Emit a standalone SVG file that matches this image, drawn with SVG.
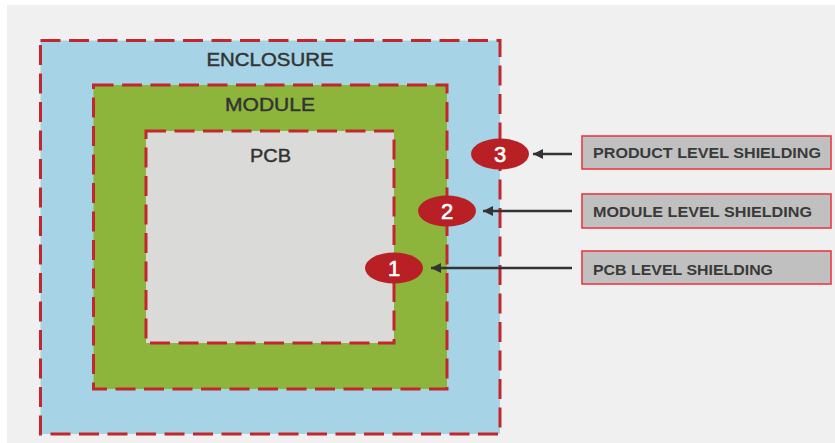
<svg xmlns="http://www.w3.org/2000/svg" width="835" height="443" viewBox="0 0 835 443">
<defs>
<style>
.zone{stroke:#c1272d;stroke-width:3;stroke-dasharray:20 8.5;}
.title{font-family:"Liberation Sans",Arial,sans-serif;font-size:19px;fill:#333;stroke:#333;stroke-width:0.45;text-anchor:middle;}
.badge{fill:#b92025;}
.num{font-family:"Liberation Sans",Arial,sans-serif;font-size:22px;fill:#fff;stroke:#fff;stroke-width:0.6;text-anchor:middle;}
.box{fill:#c0c0c0;stroke:#ec3a44;stroke-width:1.6;}
.lbl{font-family:"Liberation Sans",Arial,sans-serif;font-weight:bold;font-size:15px;fill:#3a3a3a;}
.arrow{stroke:#333;stroke-width:2.6;fill:none;}
</style>
<marker id="ah" markerWidth="10" markerHeight="10" refX="10" refY="5" orient="auto" markerUnits="userSpaceOnUse" viewBox="0 0 10 10">
<path d="M0,0 L10,5 L0,10 Z" fill="#333"/>
</marker>
</defs>
<rect x="7" y="5" width="828" height="438" fill="#f0f0f0"/>
<g id="enclosure">
<rect class="zone" x="40.5" y="40.5" width="459.5" height="393.5" fill="#a6d4e6"/>
<text class="title" x="270" y="65.5" textLength="127" lengthAdjust="spacingAndGlyphs">ENCLOSURE</text>
</g>
<g id="module">
<rect class="zone" x="93.5" y="85" width="353.5" height="304" fill="#8db53c"/>
<text class="title" x="270" y="110.5" textLength="90" lengthAdjust="spacingAndGlyphs">MODULE</text>
</g>
<g id="pcb">
<rect class="zone" x="146" y="131" width="248" height="212" fill="#dadad8"/>
<text class="title" x="270.5" y="161.5" textLength="41" lengthAdjust="spacingAndGlyphs">PCB</text>
</g>
<g id="badge3">
<ellipse class="badge" cx="500" cy="154" rx="29" ry="15.5"/>
<text class="num" x="500" y="162">3</text>
</g>
<g id="badge2">
<ellipse class="badge" cx="447" cy="211" rx="29" ry="15.5"/>
<text class="num" x="447" y="219">2</text>
</g>
<g id="badge1">
<ellipse class="badge" cx="394" cy="268" rx="29" ry="15.5"/>
<text class="num" x="394" y="276">1</text>
</g>
<g id="label-product">
<rect class="box" x="582" y="136" width="249" height="33"/>
<text class="lbl" x="593" y="158" textLength="228" lengthAdjust="spacingAndGlyphs">PRODUCT LEVEL SHIELDING</text>
</g>
<g id="label-module">
<rect class="box" x="582" y="194" width="249" height="34"/>
<text class="lbl" x="593" y="216.5" textLength="219" lengthAdjust="spacingAndGlyphs">MODULE LEVEL SHIELDING</text>
</g>
<g id="label-pcb">
<rect class="box" x="582" y="251" width="249" height="33"/>
<text class="lbl" x="593" y="274.5" textLength="180" lengthAdjust="spacingAndGlyphs">PCB LEVEL SHIELDING</text>
</g>
<g id="connectors">
<line class="arrow" x1="572" y1="154" x2="533" y2="154" marker-end="url(#ah)"/>
<line class="arrow" x1="572" y1="211" x2="483" y2="211" marker-end="url(#ah)"/>
<line class="arrow" x1="572" y1="268" x2="431" y2="268" marker-end="url(#ah)"/>
</g>
</svg>
